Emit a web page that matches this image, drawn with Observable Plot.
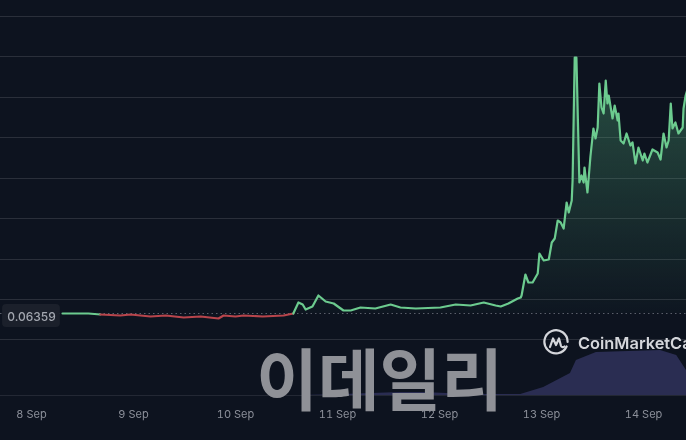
<!DOCTYPE html>
<html><head><meta charset="utf-8">
<script src="https://cdn.jsdelivr.net/npm/d3@7"></script>
<script src="https://cdn.jsdelivr.net/npm/@observablehq/plot@0.6"></script>
<style>
html,body{margin:0;padding:0;background:#0d131f;width:686px;height:440px;overflow:hidden}
#wrap{position:relative;width:686px;height:440px;overflow:hidden;filter:blur(0.6px)}
#logo{position:absolute;left:543px;top:329px;width:26px;height:26px}
#brand{position:absolute;left:578px;top:333px;font:600 16.4px Inter,sans-serif;color:#d4d6db;white-space:nowrap;line-height:20px}
</style></head><body>
<div id="wrap"><div id="chart"></div>
<svg id="logo" viewBox="0 0 26 26" fill="none" stroke="#d4d6db" stroke-width="2.2" stroke-linecap="round" stroke-linejoin="round">
<path d="M23.6 17.5A11.6 11.6 0 1 1 24.6 13"/><path d="M7 18 10 9.5 13 16 16 9.5 18 17c.5 1.5 2.5 1.5 3.500.5"/></svg>
<div id="brand">CoinMarketCap</div></div>
<script>
const startDay = Date.UTC(2023, 8, 8);
const basePrice = 0.06359;
const hours = [7.3,13.4,16.2,20.9,23.3,28.0,31.6,35.8,39.8,44.0,45.2,48.0,49.9,54.4,59.3,61.6,62.8,63.8,64.5,66.1,67.5,69.2,71.1,73.4,75.1,77.4,80.9,84.5,86.8,90.4,96.2,99.8,103.3,106.4,109.2,110.4,112.2,114.4,115.1,115.3,116.2,116.9,117.9,119.1,119.5,120.5,121.7,122.4,123.1,123.8,124.5,125.2,125.9,126.4,127.1,127.3,127.8,128.2,128.9,129.4,129.9,130.1,130.8,131.5,132.2,132.7,133.2,133.6,134.1,134.6,135.1,135.5,135.8,136.7,137.2,137.9,138.1,138.6,139.3,140.0,140.9,141.4,142.1,142.8,143.8,144.2,144.9,146.1,147.3,148.0,148.7,149.4,149.9,150.4,150.8,151.5,152.2,153.2,153.4,153.9,154.6];
const prices = [.06359,.06359,.06349,.06339,.06349,.06329,.06339,.06319,.06329,.06309,.06339,.06329,.06339,.06329,.06339,.06359,.06469,.06449,.06399,.06429,.06539,.06479,.06459,.06389,.06389,.06419,.06409,.06449,.06419,.06409,.06419,.06449,.06439,.06469,.06439,.06429,.06459,.06509,.06519,.06539,.06749,.06669,.06669,.06759,.06959,.06889,.06899,.07069,.07109,.07289,.07269,.07209,.07469,.07369,.07489,.07689,.08919,.08919,.07669,.07739,.07669,.07819,.07569,.07929,.08209,.08109,.08219,.08659,.08419,.08359,.08689,.08459,.08539,.08309,.08439,.08289,.08359,.08089,.08059,.08159,.08039,.08069,.07859,.08019,.07889,.07959,.07869,.07999,.07969,.07899,.08159,.08019,.08089,.08459,.08209,.08269,.08159,.08219,.08409,.08539,.08639];
const volumeHours = [63.3,73.4,86.8,92.2,103.3,111.5,115.1,120.5,126.8,128.2,132.9,148,151.8,154.1];
const volumes = [0,1,3,3,1,1,1,8,22,35,43,45,40,25];
const gridPrices = [.06099,.06499,.06899,.07309,.07709,.08119,.08519,.08929,.09329];
const volumeFloor = .05539, volumeUnit = .0001;
const tickDays = [8,9,10,11,12,13,14];
const watermark = "이데일리";
const brandGreen = "#6ccb8f", brandRed = "#b8454c";

const at = h => new Date(startDay + h * 36e5);
const series = hours.map((h,i) => ({t: at(h), p: prices[i]}));
const vol = volumeHours.map((h,i) => ({t: at(h), v: volumeFloor + volumes[i]*volumeUnit}));
const ticks = tickDays.map(d => new Date(Date.UTC(2023,8,d)));
const risen = series.slice(15);

const defs = () => {
  const ns = "http://www.w3.org/2000/svg";
  const d = document.createElementNS(ns,"defs");
  d.innerHTML = `<linearGradient id="gfill" gradientUnits="userSpaceOnUse" x1="0" y1="60" x2="0" y2="313">
    <stop offset="0" stop-color="#5fc68a" stop-opacity="0.34"/><stop offset="1" stop-color="#5fc68a" stop-opacity="0.02"/></linearGradient>`;
  return d;
};

const chart = Plot.plot({
  width: 686, height: 440,
  marginTop: 0, marginRight: 0, marginLeft: 0, marginBottom: 35,
  style: {background: "transparent", fontFamily: "Inter, sans-serif"},
  x: {type: "utc", domain: [at(-7.29), at(154.1)]},
  y: {domain: [.05439, .09489], axis: null},
  marks: [
    defs,
    Plot.ruleY(gridPrices, {stroke: "#2a2f3a", strokeWidth: 1.1}),
    Plot.ruleY([volumeFloor], {stroke: "#232834", strokeWidth: 1.1}),
    Plot.areaY(vol, {x: "t", y1: volumeFloor, y2: "v", fill: "#2a2d52", clip: true}),
    Plot.areaY(risen, {x: "t", y1: basePrice, y2: "p", fill: "url(#gfill)", clip: true}),
    Plot.ruleY([basePrice], {stroke: "#5a5f6a", strokeWidth: 1, strokeDasharray: "1.5 3"}),
    Plot.line(series, {x: "t", y: "p", z: null, stroke: d => d.p >= basePrice ? brandGreen : brandRed, strokeWidth: 2.2, clip: true}),
    Plot.rect([0], {x1: () => at(-6.8), x2: () => at(6.8), y1: .06219, y2: .06449, fill: "#1b202b", rx: 4}),
    Plot.text([basePrice], {x: () => at(0), y: .06319, text: d => String(d), fill: "#a3a7b0", fontSize: 12, fontWeight: 500}),
    Plot.text([watermark], {x: () => at(81.9), y: .05659, text: d => d, fill: "#8f9197", fontSize: 67, fontWeight: 700, fontFamily: "'Noto Sans CJK KR'"}),
    Plot.axisX({ticks, tickFormat: d3.utcFormat("%-d %b"), tickSize: 0, tickPadding: 5, fontSize: 11, color: "#8b8f99", label: null})
  ]
});
document.getElementById("chart").appendChild(chart);
</script></body></html>
